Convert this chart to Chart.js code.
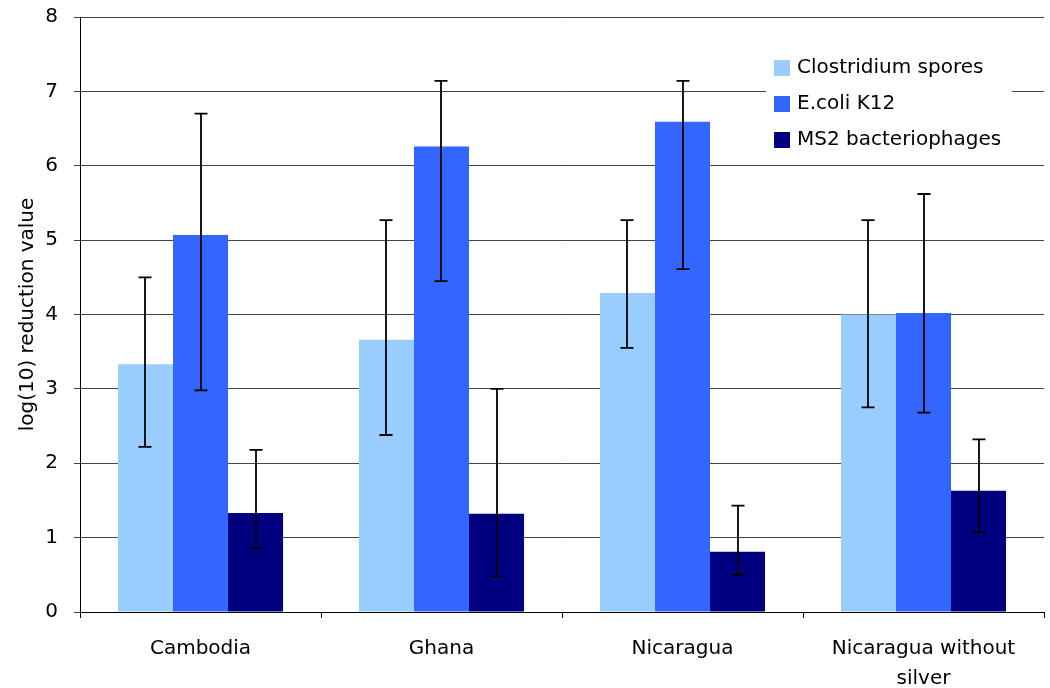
<!DOCTYPE html>
<html>
<head>
<meta charset="utf-8">
<script src="https://cdn.jsdelivr.net/npm/chart.js@4.4.0/dist/chart.umd.min.js"></script>
<style>
  html, body { margin: 0; padding: 0; background: #fff; }
  #wrap { width: 1050px; height: 688px; }
</style>
</head>
<body>
<div id="wrap"><canvas id="bar-chart" width="1050" height="688"></canvas></div>
<script>
const categories = ["Cambodia", "Ghana", "Nicaragua", ["Nicaragua without", "silver"]];
const seriesNames = ["Clostridium spores", "E.coli K12", "MS2 bacteriophages"];
const seriesColors = ["#99ccff", "#3366ff", "#000080"];

const clostridium = [3.33, 3.66, 4.29, 4.0];
const ecoli = [5.07, 6.26, 6.59, 4.02];
const ms2 = [1.33, 1.32, 0.81, 1.63];

// error bar ends (low, high)
const clostridiumLow = [2.22, 2.38, 3.55, 2.75];
const clostridiumHigh = [4.5, 5.27, 5.27, 5.27];
const ecoliLow = [2.98, 4.45, 4.61, 2.68];
const ecoliHigh = [6.7, 7.14, 7.14, 5.62];
const ms2Low = [0.86, 0.48, 0.5, 1.07];
const ms2High = [2.18, 3.0, 1.43, 2.32];

const yTicks = [0, 1, 2, 3, 4, 5, 6, 7, 8];

const FONT = "'DejaVu Sans', Verdana, sans-serif";

const errorBars = {
  id: "errorBars",
  afterDatasetsDraw(chart) {
    const ctx = chart.ctx;
    const y = chart.scales.y;
    ctx.save();
    ctx.strokeStyle = "#000";
    ctx.lineWidth = 1.8;
    chart.data.datasets.forEach((ds, i) => {
      const meta = chart.getDatasetMeta(i);
      meta.data.forEach((bar, j) => {
        const x = Math.round(bar.x);
        const yl = y.getPixelForValue(ds.errLow[j]);
        const yh = y.getPixelForValue(ds.errHigh[j]);
        ctx.beginPath();
        ctx.moveTo(x, yl);
        ctx.lineTo(x, yh);
        ctx.moveTo(x - 6.5, yl);
        ctx.lineTo(x + 6.5, yl);
        ctx.moveTo(x - 6.5, yh);
        ctx.lineTo(x + 6.5, yh);
        ctx.stroke();
      });
    });
    ctx.restore();
  },
};

const boxLegend = {
  id: "boxLegend",
  afterDraw(chart) {
    const ctx = chart.ctx;
    ctx.save();
    ctx.fillStyle = "#fff";
    ctx.fillRect(766, 50, 246, 112);
    ctx.font = "20px " + FONT;
    ctx.textBaseline = "middle";
    seriesNames.forEach((name, i) => {
      const cy = 68 + i * 36;
      ctx.fillStyle = seriesColors[i];
      ctx.fillRect(774, cy - 8, 16, 16);
      ctx.fillStyle = "#000";
      ctx.fillText(name, 797, cy);
    });
    ctx.restore();
  },
};

new Chart("bar-chart", {
  type: "bar",
  data: {
    labels: categories,
    datasets: [
      { label: seriesNames[0], data: clostridium, backgroundColor: seriesColors[0], errLow: clostridiumLow, errHigh: clostridiumHigh },
      { label: seriesNames[1], data: ecoli, backgroundColor: seriesColors[1], errLow: ecoliLow, errHigh: ecoliHigh },
      { label: seriesNames[2], data: ms2, backgroundColor: seriesColors[2], errLow: ms2Low, errHigh: ms2High },
    ],
  },
  options: {
    responsive: false,
    animation: false,
    layout: { padding: { top: 17, right: 6, bottom: 0, left: 14 } },
    datasets: { bar: { categoryPercentage: 0.685, barPercentage: 1.0 } },
    plugins: {
      legend: { display: false },
      tooltip: { enabled: false },
    },
    scales: {
      x: {
        afterFit: (axis) => { axis.height = 76; axis.paddingTop = 0; axis.paddingBottom = 0; },
        grid: { offset: true, drawOnChartArea: false, color: "#000", tickLength: 6 },
        border: { color: "#000", width: 1 },
        ticks: { color: "#000", font: { family: FONT, size: 20, lineHeight: 1.5 }, padding: 16, maxRotation: 0 },
      },
      y: {
        min: 0,
        max: 8,
        afterFit: (axis) => { axis.width = 66; axis.paddingTop = 0; axis.paddingBottom = 0; },
        afterBuildTicks: (axis) => { axis.ticks = yTicks.map((v) => ({ value: v })); },
        grid: { color: "#444", tickLength: 6 },
        border: { color: "#000", width: 1 },
        ticks: { color: "#000", font: { family: FONT, size: 20 }, padding: 16 },
        title: { display: true, text: "log(10) reduction value", color: "#000", font: { family: FONT, size: 20 }, padding: 2 },
      },
    },
  },
  plugins: [errorBars, boxLegend],
});
</script>
</body>
</html>
